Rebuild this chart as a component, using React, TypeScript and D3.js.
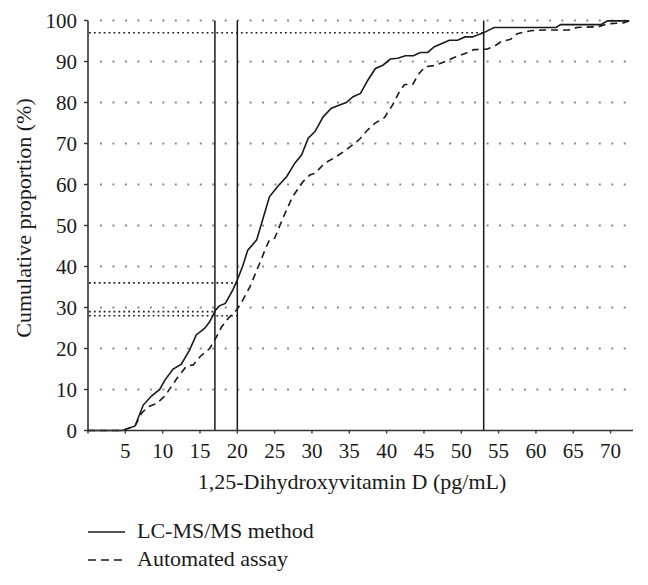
import React from "react";
import * as d3 from "d3";

const lcmsX = [0, 4.6, 6.3, 7.4, 8.5, 9.6, 10.3, 11.4, 12.5, 13.6, 14.5, 15.6, 16.3, 17.1, 17.6, 18.4, 19.4, 19.9, 20.7, 21.4, 22.6, 24.3, 25.4, 26.6, 27.7, 28.6, 29.5, 30.4, 31.5, 32.6, 33.7, 34.6, 35.5, 36.5, 37.5, 38.5, 39.5, 40.5, 41.5, 42.5, 43.6, 44.5, 45.5, 46.4, 47.4, 48.4, 49.5, 50.5, 51.5, 53.1, 54.4, 62.7, 63.3, 68.7, 69.6, 72.5];
const lcmsY = [0, 0, 1.1, 6.2, 8.4, 10, 12.3, 15, 16.2, 19.6, 23.3, 24.9, 26.5, 29.4, 30.4, 31, 34.3, 36.3, 40, 44, 46.5, 57, 59.5, 61.9, 65.2, 67.2, 71.3, 72.9, 76.5, 78.6, 79.4, 80, 81.4, 82.2, 85.5, 88.3, 89.1, 90.6, 90.8, 91.4, 91.4, 92.2, 92.2, 93.6, 94.4, 95.2, 95.2, 96, 96, 97.1, 98.3, 98.3, 99, 99, 99.9, 99.9];

const autoX = [0, 4.6, 6.3, 7.2, 8.1, 9.2, 10.3, 11.9, 13.2, 14.1, 15, 16.3, 17.1, 17.9, 18.8, 19.9, 20.5, 21.7, 23, 23.7, 24.3, 25, 26.1, 27.4, 28.8, 29.7, 30.4, 31.7, 33, 34.4, 35.7, 36.4, 37.3, 38.4, 39.7, 40.8, 41.7, 42.4, 43.5, 44.2, 45.1, 46.4, 47.6, 48.8, 50.6, 51.7, 53.4, 54.5, 55.3, 56.6, 57.5, 59.3, 61.1, 64.4, 65.5, 68.4, 69.6, 71.7, 72.5];
const autoY = [0, 0, 1.1, 4.3, 5.8, 6.6, 8.4, 12.7, 15.7, 16, 18, 20, 22.5, 25.3, 27.4, 29.4, 31, 35.1, 40.8, 44, 46.5, 46.9, 51.8, 57, 60.7, 62.3, 62.7, 65.2, 66.5, 68.2, 70, 71.1, 73, 74.9, 76.3, 79.4, 82.6, 84.4, 84.4, 86.7, 88.7, 89, 89.8, 90.8, 92, 92.9, 93, 93.8, 94.8, 95.4, 96.8, 97.5, 97.7, 97.7, 98.3, 98.5, 99.2, 99.4, 99.9];

const xTicks = [0, 5, 10, 15, 20, 25, 30, 35, 40, 45, 50, 55, 60, 65, 70];
const xTickLabels = ["", "5", "10", "15", "20", "25", "30", "35", "40", "45", "50", "55", "60", "65", "70"];
const yTicks = [0, 10, 20, 30, 40, 50, 60, 70, 80, 90, 100];
const yGrid = [10, 20, 30, 40, 50, 60, 70, 80, 90, 100];

const cutoffX = [17, 20, 53];
const refLevels = [97, 36, 29, 28];
const refEnds = [53, 20, 17, 20];

const seriesNames = ["LC-MS/MS method", "Automated assay"];
const xTitle = "1,25-Dihydroxyvitamin D (pg/mL)";
const yTitle = "Cumulative proportion (%)";

export default function App() {
  const W = 648, H = 585;
  const x = d3.scaleLinear().domain([0, 73]).range([88, 633]);
  const y = d3.scaleLinear().domain([0, 100]).range([430.5, 20.5]);
  const font = "'Liberation Serif', 'Times New Roman', serif";
  const fs = 21;
  const fsT = 22;
  const line = d3.line<[number, number]>().x(d => x(d[0])).y(d => y(d[1]));
  const lcms: [number, number][] = lcmsX.map((v, i) => [v, lcmsY[i]]);
  const auto: [number, number][] = autoX.map((v, i) => [v, autoY[i]]);
  const ink = "#1a1a1a";

  return (
    <svg width={W} height={H} style={{ position: "absolute", left: 0, top: 0, background: "#fff" }} fontFamily={font}>
      {/* grid */}
      {yGrid.map(v => (
        <line key={"g" + v} x1={x(0) + 12} x2={x(73)} y1={y(v)} y2={y(v)} stroke="#8a8a8a" strokeWidth={1.8} strokeDasharray="2 10.47" />
      ))}
      {/* reference dotted lines */}
      {refLevels.map((v, i) => (
        <line key={"r" + i} x1={x(0) + 1} x2={x(refEnds[i])} y1={y(v)} y2={y(v)} stroke="#222" strokeWidth={1.6} strokeDasharray="1.8 3.1" />
      ))}
      {/* cutoff verticals */}
      {cutoffX.map(v => (
        <line key={"c" + v} x1={x(v)} x2={x(v)} y1={y(0)} y2={y(100)} stroke={ink} strokeWidth={1.5} />
      ))}
      {/* curves */}
      <path d={line(auto) || ""} fill="none" stroke={ink} strokeWidth={1.6} strokeDasharray="7 5" />
      <path d={line(lcms) || ""} fill="none" stroke={ink} strokeWidth={1.6} />
      {/* axes */}
      <line x1={x(0)} x2={x(0)} y1={y(0)} y2={y(100)} stroke="#333" strokeWidth={1.6} />
      <line x1={x(0)} x2={x(73)} y1={y(0)} y2={y(0)} stroke="#333" strokeWidth={1.6} />
      {yTicks.map(v => (
        <g key={"yt" + v}>
          <line x1={x(0) - 4} x2={x(0)} y1={y(v)} y2={y(v)} stroke="#333" strokeWidth={1.4} />
          <text x={x(0) - 11} y={y(v)} dy="0.34em" textAnchor="end" fontSize={fs} fill={ink}>{v}</text>
        </g>
      ))}
      {xTicks.map((v, i) => (
        <g key={"xt" + v}>
          <line x1={x(v)} x2={x(v)} y1={y(0)} y2={y(0) + 3} stroke="#333" strokeWidth={1.4} />
          <text x={x(v)} y={458} textAnchor="middle" fontSize={fs} fill={ink}>{xTickLabels[i]}</text>
        </g>
      ))}
      <text x={352} y={489} textAnchor="middle" fontSize={fsT} fill={ink}>{xTitle}</text>
      <text transform={`translate(31,218) rotate(-90)`} textAnchor="middle" fontSize={fsT} fill={ink}>{yTitle}</text>
      {/* legend */}
      <line x1={88} x2={125} y1={532} y2={532} stroke={ink} strokeWidth={1.5} />
      <text x={137} y={538} fontSize={fsT} fill={ink}>{seriesNames[0]}</text>
      <line x1={88} x2={125} y1={560} y2={560} stroke={ink} strokeWidth={1.5} strokeDasharray="8 5" />
      <text x={137} y={566} fontSize={fsT} fill={ink}>{seriesNames[1]}</text>
    </svg>
  );
}
